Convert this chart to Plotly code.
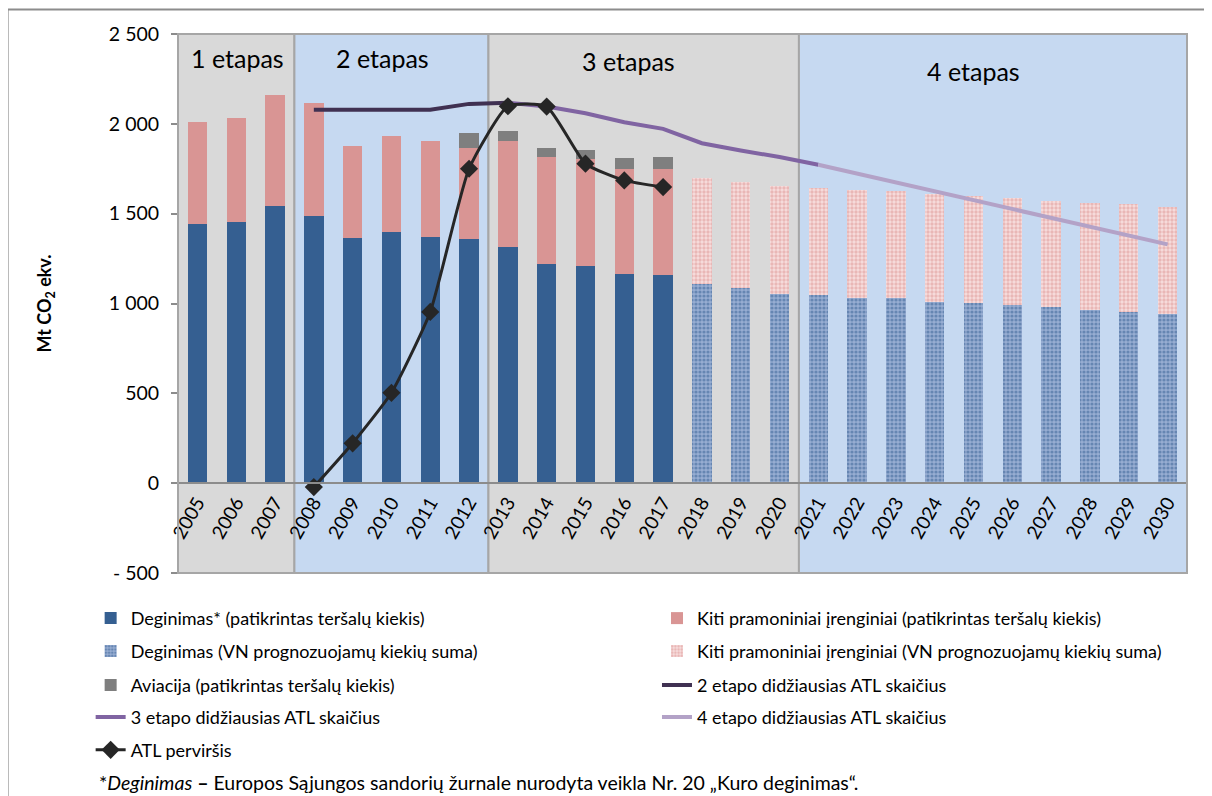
import plotly.graph_objects as go

years = ["2005", "2006", "2007", "2008", "2009", "2010", "2011", "2012", "2013",
         "2014", "2015", "2016", "2017", "2018", "2019", "2020", "2021", "2022",
         "2023", "2024", "2025", "2026", "2027", "2028", "2029", "2030"]

# Verified emissions (2005-2017)
verified_years = years[:13]
deginimas = [1440, 1452, 1541, 1489, 1367, 1398, 1368, 1357, 1317, 1220, 1209, 1163, 1159]
kiti = [573, 583, 620, 629, 511, 537, 534, 507, 590, 593, 593, 585, 591]

# Aviation (2012-2017)
aviacija_years = ["2012", "2013", "2014", "2015", "2016", "2017"]
aviacija = [86, 52, 55, 55, 63, 67]

# Projections (2018-2030)
proj_years = years[13:]
deginimas_vn = [1109, 1085, 1052, 1046, 1033, 1030, 1007, 1003, 990, 978, 966, 955, 943]
kiti_vn = [591, 592, 603, 596, 597, 598, 602, 597, 595, 592, 595, 597, 594]

# Caps
cap2_years = ["2008", "2009", "2010", "2011", "2012", "2013"]
cap2 = [2079, 2079, 2079, 2079, 2111, 2117]
cap3_years = ["2013", "2014", "2015", "2016", "2017", "2018", "2019", "2020", "2021"]
cap3 = [2117, 2096, 2059, 2009, 1972, 1892, 1852, 1815, 1772]
cap4_years = ["2021", "2022", "2023", "2024", "2025", "2026", "2027", "2028", "2029", "2030"]
cap4 = [1772, 1723, 1674, 1625, 1575, 1526, 1477, 1428, 1378, 1329]

# Surplus of allowances
atl_years = ["2008", "2009", "2010", "2011", "2012", "2013", "2014", "2015", "2016", "2017"]
atl = [-22, 222, 503, 953, 1750, 2098, 2096, 1778, 1685, 1648]

y_tickvals = [-500, 0, 500, 1000, 1500, 2000, 2500]
y_ticktext = ["- 500", "0", "500", "1 000", "1 500", "2 000", "2 500"]

phases = ["1 etapas", "2 etapas", "3 etapas", "4 etapas"]

FONT = "Lato, 'Open Sans', sans-serif"
BLUE = "#355F91"
PINK = "#D99594"
GRAY = "#7F7F7F"

# page geometry (the page body adds an 8 px offset)
OFF = 8
PL, PR, PT, PB = 178.3, 1186.7, 33.5, 573.5   # plot area in page pixels
PW, PH = PR - PL, PB - PT

def px(xp):
    return (xp - PL) / PW

def py(yp):
    return (PB - yp) / PH

fig = go.Figure()

fig.add_trace(go.Bar(x=verified_years, y=deginimas, name="Deginimas* (patikrintas teršalų kiekis)",
                     marker=dict(color=BLUE, line=dict(width=0)), legend="legend", showlegend=True))
fig.add_trace(go.Bar(x=verified_years, y=kiti, name="Kiti pramoniniai įrenginiai (patikrintas teršalų kiekis)",
                     marker=dict(color=PINK, line=dict(width=0)), legend="legend2", showlegend=True))
fig.add_trace(go.Bar(x=proj_years, y=deginimas_vn, name="Deginimas (VN prognozuojamų kiekių suma)",
                     marker=dict(color="#8AA2C8", line=dict(width=0),
                                 pattern=dict(shape=".", fgcolor="#355F91", bgcolor="#97ADD2",
                                              size=4, solidity=0.5)), legend="legend3", showlegend=True))
fig.add_trace(go.Bar(x=proj_years, y=kiti_vn, name="Kiti pramoniniai įrenginiai (VN prognozuojamų kiekių suma)",
                     marker=dict(color="#EEBCBB", line=dict(width=0),
                                 pattern=dict(shape=".", fgcolor="#DC8F8E", bgcolor="#F7DEDE",
                                              size=4, solidity=0.55)), legend="legend4", showlegend=True))
fig.add_trace(go.Bar(x=aviacija_years, y=aviacija, name="Aviacija (patikrintas teršalų kiekis)",
                     marker=dict(color=GRAY, line=dict(width=0)), legend="legend5", showlegend=True))

fig.add_trace(go.Scatter(x=cap2_years, y=cap2, mode="lines", name="2 etapo didžiausias ATL skaičius",
                         line=dict(color="#403152", width=4), legend="legend6", showlegend=True))
fig.add_trace(go.Scatter(x=cap3_years, y=cap3, mode="lines", name="3 etapo didžiausias ATL skaičius",
                         line=dict(color="#8064A2", width=4), legend="legend7", showlegend=True))
fig.add_trace(go.Scatter(x=cap4_years, y=cap4, mode="lines", name="4 etapo didžiausias ATL skaičius",
                         line=dict(color="#B3A2C7", width=4), legend="legend8", showlegend=True))
fig.add_trace(go.Scatter(x=atl_years, y=atl, mode="lines+markers", name="ATL perviršis",
                         line=dict(color="#262626", width=3, shape="spline", smoothing=0.5),
                         marker=dict(symbol="diamond", size=14, color="#262626"),
                         legend="legend9", showlegend=True))

# Phase background bands
bands = [(-0.5, 2.5, "#D9D9D9"), (2.5, 7.5, "#C6D9F1"), (7.5, 15.5, "#D9D9D9"), (15.5, 25.5, "#C6D9F1")]
shapes = []
for x0, x1, col in bands:
    shapes.append(dict(type="rect", xref="x", yref="y", x0=x0, x1=x1, y0=-500, y1=2500,
                       fillcolor=col, line=dict(color="#A6A6A6", width=2), layer="below"))
# plot border
shapes.append(dict(type="rect", xref="paper", yref="paper", x0=0, x1=1, y0=0, y1=1,
                   line=dict(color="#A6A6A6", width=2), layer="above"))
# outer frame
shapes.append(dict(type="rect", xref="paper", yref="paper", x0=px(8), x1=1.2,
                   y0=-0.6, y1=py(9),
                   line=dict(color="#8C8C8C", width=2), layer="above"))

annotations = []
for txt, xi, yv in zip(phases, [1.04, 4.78, 11.1, 20.0], [2368, 2368, 2352, 2296]):
    annotations.append(dict(x=xi, y=yv, xref="x", yref="y", text=txt, showarrow=False,
                            font=dict(family=FONT, size=25, color="#000000")))
annotations.append(dict(x=px(97), y=py(783), xref="paper", yref="paper",
                        text="*<i>Deginimas</i> <b>–</b> Europos Sąjungos sandorių žurnale nurodyta veikla Nr. 20 „Kuro deginimas“.",
                        showarrow=False, xanchor="left", yanchor="middle",
                        font=dict(family=FONT, size=19.5, color="#000000")))

legend_font = dict(family=FONT, size=18, color="#000000")
def leg(xpx, ypx):
    return dict(x=px(xpx), y=py(ypx), xanchor="left", yanchor="middle",
                bgcolor="rgba(0,0,0,0)", font=legend_font, borderwidth=0)

left_x, right_x = 91, 657
rows = [619, 652, 686, 718, 751]

fig.update_layout(
    width=1212, height=796,
    margin=dict(l=PL - OFF, r=1212 - (PR - OFF), t=PT - OFF, b=796 - (PB - OFF), autoexpand=False),
    barmode="stack", bargap=0.5,
    showlegend=True,
    paper_bgcolor="white", plot_bgcolor="white",
    font=dict(family=FONT, color="#000000"),
    separators=", ",
    shapes=shapes, annotations=annotations,
    legend=leg(left_x, rows[0]),
    legend2=leg(right_x, rows[0]),
    legend3=leg(left_x, rows[1]),
    legend4=leg(right_x, rows[1]),
    legend5=leg(left_x, rows[2]),
    legend6=leg(right_x, rows[2]),
    legend7=leg(left_x, rows[3]),
    legend8=leg(right_x, rows[3]),
    legend9=leg(left_x, rows[4]),
    xaxis=dict(type="category", categoryorder="array", categoryarray=years,
               range=[-0.5, 25.5], anchor="free", position=1/6,
               showline=True, linecolor="#8C8C8C", linewidth=2, showgrid=False,
               ticks="", tickangle=-60, tickfont=dict(family=FONT, size=19, color="#000000"),
               zeroline=False, automargin=False),
    yaxis=dict(range=[-500, 2500], tickvals=y_tickvals, ticktext=y_ticktext,
               showgrid=False, zeroline=False, showline=False,
               ticks="outside", ticklen=6, tickcolor="#8C8C8C", tickwidth=2,
               ticklabelstandoff=8, automargin=False,
               tickfont=dict(family=FONT, size=19.5, color="#000000"),
               title=dict(text="<b>Mt CO<sub>2</sub> ekv.</b>", standoff=52,
                          font=dict(family=FONT, size=18, color="#000000"))),
)

fig.write_html("out.html")
